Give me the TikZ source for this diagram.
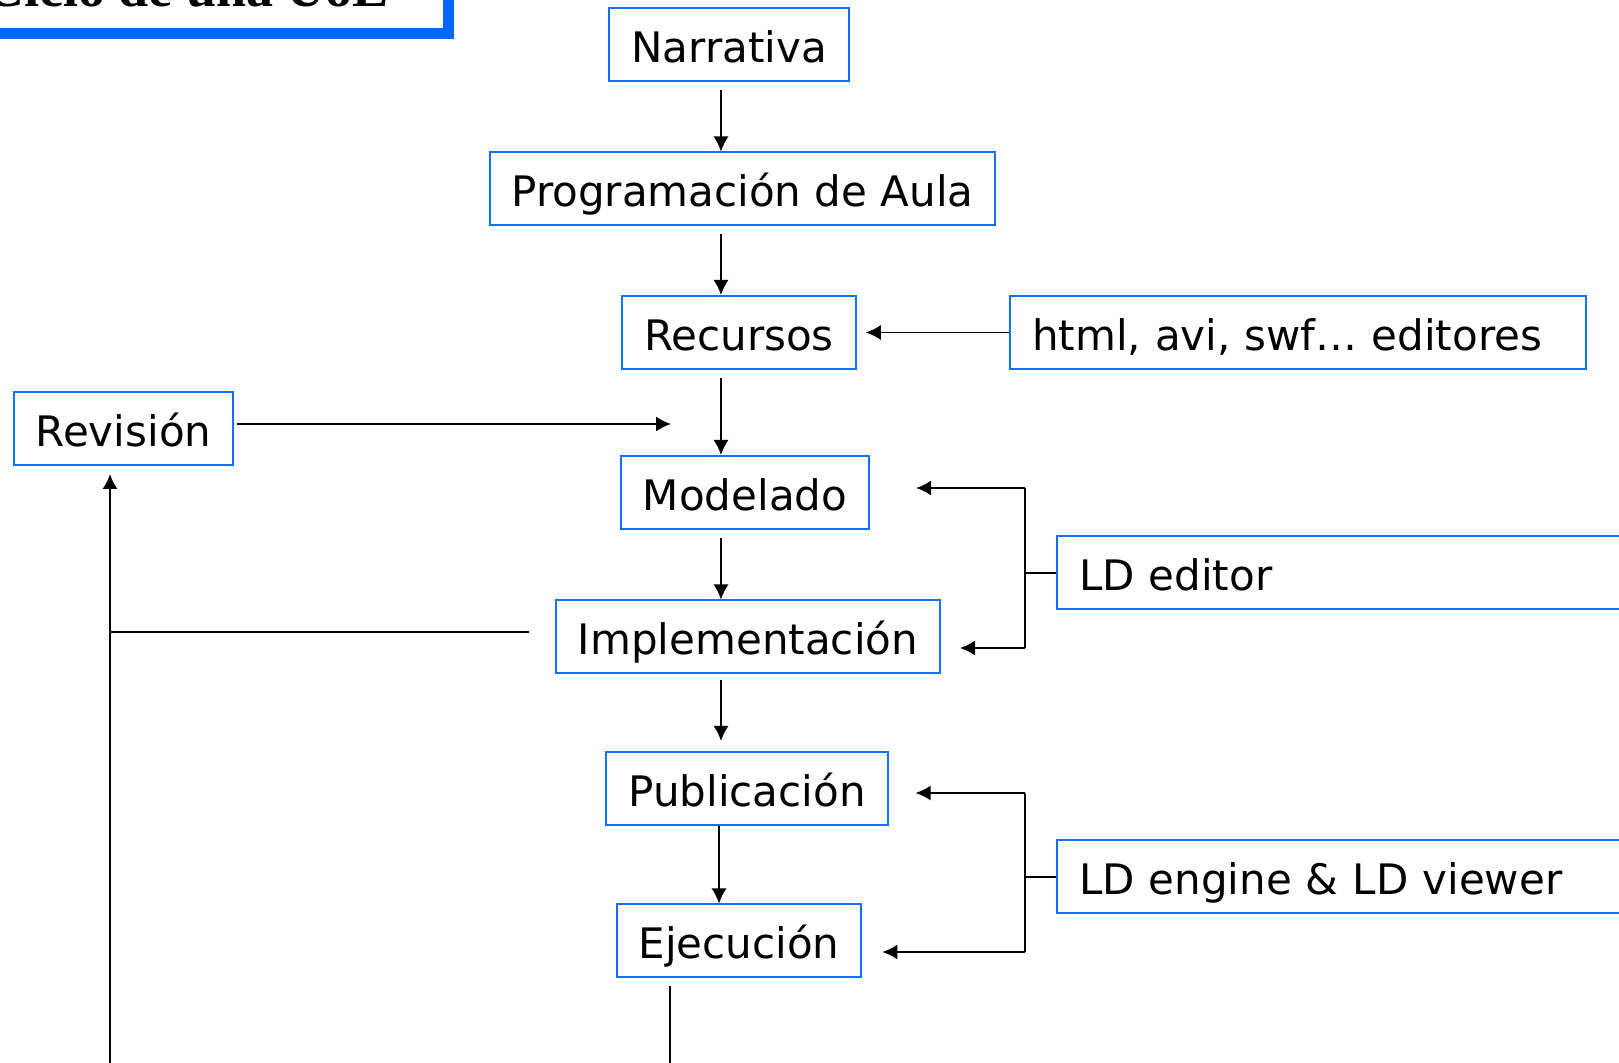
\documentclass[tikz,border=0pt]{standalone}
\usepackage{fontspec}
\setmainfont{DejaVu Sans}
\newfontfamily\titlefont{Liberation Serif}
\usetikzlibrary{arrows.meta,positioning}
\definecolor{bordecaja}{RGB}{20,110,255}
\definecolor{bordetitulo}{RGB}{0,102,255}

\begin{document}
\begin{tikzpicture}[x=0.5pt,y=-0.5pt,>={Latex[length=7.5pt,width=7.5pt]},
  caja/.style={draw=bordecaja,line width=1pt,rectangle,inner xsep=11pt,inner ysep=3pt,
    minimum height=36.5pt,text height=22pt,text depth=4pt,font=\fontsize{21}{25}\selectfont},
  flecha/.style={->,line width=0.8pt},
  linea/.style={line width=0.8pt}]
\clip (0,0) rectangle (1619,1063);
% titulo, cortado por arriba
\node[draw=bordetitulo,line width=5.5pt,inner xsep=29.75pt,inner ysep=13.5pt,text depth=0pt,anchor=south east,
  font=\titlefont\bfseries\fontsize{27}{30}\selectfont] (titulo) at (454,39) {Ciclo de una UoL};
\node[caja] (narrativa) at (729,44.5) {Narrativa};
\node[caja] (programacion) at (742.5,189) {Programación de Aula};
\node[caja] (recursos) at (739,332.5) {Recursos};
\node[caja,anchor=west,text width=266pt,align=left] (herramientas) at (1009,332.5) {html, avi, swf… editores};
\node[caja] (revision) at (123.5,428.5) {Revisión};
\node[caja] (modelado) at (745,492.5) {Modelado};
\node[caja,anchor=west,text width=400pt,align=left] (editor) at (1056,573) {LD editor};
\node[caja] (implementacion) at (748,637) {Implementación};
\node[caja] (publicacion) at (747,788.5) {Publicación};
\node[caja,anchor=west,text width=400pt,align=left] (motor) at (1056,877) {LD engine \& LD viewer};
\node[caja] (ejecucion) at (739,941) {Ejecución};
\coordinate (eje) at (721,0);
\coordinate (eje2) at (719,0);
\coordinate (entrada) at (671,424);
\coordinate (ramaA) at (1025,488); \coordinate (ramaB) at (1025,648);
\coordinate (ramaC) at (1025,793); \coordinate (ramaD) at (1025,952);
\coordinate (retorno) at (110,1070);
\coordinate (salida) at (670,1070);
% cadena principal
\foreach \a/\b in {narrativa/programacion,programacion/recursos,recursos/modelado,modelado/implementacion}
  \draw[flecha,shorten <=4pt] (\a.south -| eje) -- (\b.north -| eje);
\draw[flecha,shorten <=3pt,shorten >=5pt] (implementacion.south -| eje) -- (publicacion.north -| eje);
\draw[flecha] (publicacion.south -| eje2) -- (ejecucion.north -| eje2);
\draw[flecha,shorten >=4.5pt] (herramientas.west) -- (recursos.east);
\draw[flecha,shorten <=1.5pt] (revision.east |- entrada) -- (entrada);
% herramientas LD
\draw[linea] (editor.west) -- (editor.west -| ramaA);
\draw[linea] (ramaA) -- (ramaB);
\draw[flecha,shorten >=23pt] (ramaA) -- (modelado.east |- ramaA);
\draw[flecha,shorten >=9.5pt] (ramaB) -- (implementacion.east |- ramaB);
\draw[linea] (motor.west) -- (motor.west -| ramaC);
\draw[linea] (ramaC) -- (ramaD);
\draw[flecha,shorten >=13.5pt] (ramaC) -- (publicacion.east |- ramaC);
\draw[flecha,shorten >=10pt] (ramaD) -- (ejecucion.east |- ramaD);
% vuelta a la revision
\draw[linea,shorten <=4pt] (ejecucion.south -| salida) -- (salida);
\draw[flecha,shorten >=4pt] (retorno) -- (revision.south -| retorno);
\draw[linea,shorten <=13pt] ([yshift=2.5pt]implementacion.west) -- ([yshift=2.5pt]implementacion.west -| retorno);
\end{tikzpicture}
\end{document}
